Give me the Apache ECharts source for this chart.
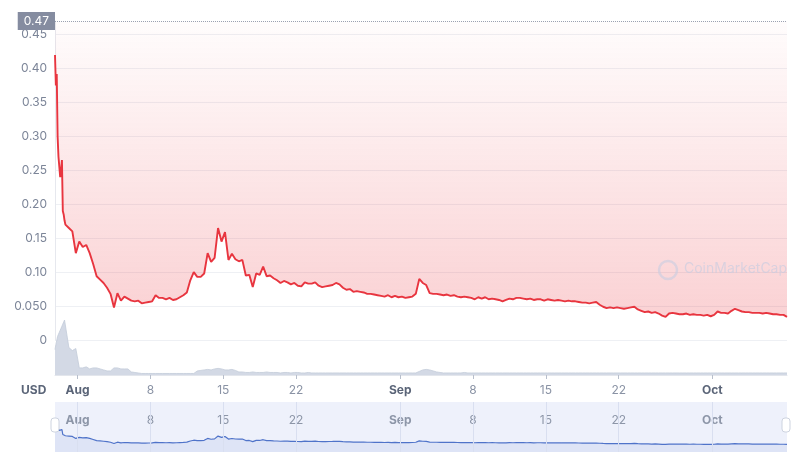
<!DOCTYPE html>
<html><head><meta charset="utf-8">
<script src="https://cdn.jsdelivr.net/npm/echarts@6/dist/echarts.min.js"></script>
<style>html,body{margin:0;padding:0;background:#fff}#c{width:800px;height:460px}</style>
</head><body><div id="c"></div>
<script>
// ---- data (USD price) ----
// first day after launch, every 2 hours from 2021-07-29 20:00
const launchPrices = [0.420,0.375,0.392,0.300,0.270,0.255,0.240,0.250,0.265,0.190,0.185,0.176];
// afterwards every 8 hours from 2021-07-30 20:00
const prices = [
0.170,0.165,0.160,0.128,0.145,0.137,0.140,0.128,0.112,0.094,
0.089,0.084,0.077,0.068,0.048,0.069,0.058,0.064,0.061,0.058,
0.057,0.058,0.054,0.055,0.056,0.057,0.066,0.062,0.062,0.060,
0.062,0.059,0.060,0.063,0.066,0.070,0.088,0.100,0.093,0.093,
0.098,0.128,0.115,0.121,0.165,0.145,0.159,0.118,0.127,0.119,
0.116,0.118,0.095,0.096,0.078,0.098,0.096,0.108,0.094,0.095,
0.091,0.088,0.084,0.087,0.085,0.082,0.084,0.080,0.079,0.085,
0.083,0.083,0.085,0.080,0.078,0.079,0.080,0.081,0.084,0.082,
0.077,0.074,0.075,0.071,0.072,0.071,0.070,0.068,0.068,0.067,
0.066,0.065,0.064,0.066,0.063,0.065,0.063,0.064,0.062,0.063,
0.064,0.068,0.090,0.084,0.081,0.069,0.068,0.068,0.067,0.066,
0.067,0.065,0.066,0.064,0.063,0.064,0.063,0.062,0.060,0.063,
0.061,0.063,0.060,0.061,0.060,0.059,0.057,0.059,0.061,0.060,
0.062,0.062,0.061,0.060,0.061,0.059,0.060,0.060,0.058,0.060,
0.059,0.058,0.059,0.058,0.057,0.058,0.057,0.057,0.056,0.055,
0.055,0.054,0.055,0.056,0.052,0.049,0.047,0.048,0.047,0.048,
0.047,0.046,0.047,0.048,0.049,0.045,0.043,0.041,0.042,0.040,
0.041,0.039,0.036,0.034,0.039,0.040,0.039,0.038,0.038,0.039,
0.037,0.038,0.037,0.037,0.036,0.037,0.035,0.037,0.042,0.040,
0.040,0.039,0.043,0.046,0.044,0.042,0.041,0.041,0.040,0.040,
0.040,0.039,0.040,0.039,0.038,0.038,0.037,0.037,0.034
];
// trading volume (relative units), same sampling
const launchVolumes = [25,30,34,38,40,42,44,46,48,50,52,54];
const volumes = [
55,27,24,26,7,7,8,6,7,7,
6,5,4,4,7,7,6,6,6,3,
2.5,2,1.5,1.5,1.5,1.5,1.5,1.5,1.5,1.5,
1.5,1.5,1.5,1.5,1.5,1.5,1.5,1.5,4,4.5,
5,5.5,5,6,6.5,6,5,5,5.5,4.5,
3,3,2.5,2.5,3,2.5,2.5,2.5,3,2.5,
2.5,2.5,2,2.5,2.5,2,2.5,2.5,2,2,
2.5,2,2,2,2,2,2,2,2,2,
2,2,2,2,2,2,2,2,2,2,
2,2,2,2,2,2,2,2,2,2,
2,2,3.5,5,5.5,5,4,3,2.5,2,
2,2,2,2,2,2.5,2,2,2,2,
2,2,2,2,2,2,2,2,2,2,
2,2,2,2,2,2,2,2,2,2,
2,2,2,2,2,2,2,2,2,2,
2,2,2,2,2,2,2,2,2,2,
2,2,2,2,2,2,2,2,2,2,
2,2,2,2,2,2,2,2,2,2,
2,2,2,2,2,2,2,2,2,2,
2,2,2,2,2,2,2,2,2,2,
2,2,2,2,2,2,2,2,2
];
const tickDays = ['2021-08-01','2021-08-08','2021-08-15','2021-08-22','2021-09-01','2021-09-08','2021-09-15','2021-09-22','2021-10-01'];
const monthNames = ['Jan','Feb','Mar','Apr','May','Jun','Jul','Aug','Sep','Oct','Nov','Dec'];
const markPrice = 0.47;

// ---- build ----
const HOUR = 3600e3;
const launchStart = new Date(2021,6,29,20).getTime();
const mainStart = new Date(2021,6,30,20).getTime();
function series(a, b){
  return a.map((v,i)=>[launchStart+i*2*HOUR, v]).concat(b.map((v,j)=>[mainStart+j*8*HOUR, v]));
}
const priceData = series(launchPrices, prices);
const volData = series(launchVolumes, volumes);
const tMin = priceData[0][0], tMax = priceData[priceData.length-1][0];
const tickValues = tickDays.map(s=>{const p=s.split('-').map(Number);return new Date(p[0],p[1]-1,p[2]).getTime();});
function fmt(v){const d=new Date(v);return d.getDate()===1?'{m|'+monthNames[d.getMonth()]+'}':String(d.getDate());}

const chart = echarts.init(document.getElementById('c'), null, {renderer:'canvas'});
const FONT = 'Inter, "Noto Sans", sans-serif';
chart.setOption({
  animation:false,
  textStyle:{fontFamily:FONT},
  grid:[
    {left:55,right:13,top:21,height:319},
    {left:55,right:13,top:318,height:57},
    {left:55,right:13,top:402,height:50,show:true,backgroundColor:'#eef1fb',borderWidth:0}
  ],
  xAxis:[
    {type:'value',gridIndex:0,min:tMin,max:tMax,show:false},
    {type:'value',gridIndex:1,min:tMin,max:tMax,
      axisLine:{lineStyle:{color:'#e3e6ec'}},
      axisTick:{customValues:tickValues,length:4,lineStyle:{color:'#b8bfcc'}},
      axisLabel:{customValues:tickValues,formatter:fmt,color:'#8a93a5',fontSize:12,margin:9,
        rich:{m:{fontWeight:'bold',color:'#5b6578',fontSize:12,fontFamily:FONT}}},
      splitLine:{show:false}},
    {type:'value',gridIndex:2,min:tMin,max:tMax,position:'top',
      axisLine:{show:false},axisTick:{show:false},
      axisLabel:{inside:true,customValues:tickValues,formatter:fmt,color:'#8d96a8',fontSize:12,margin:12,
        rich:{m:{fontWeight:'bold',color:'#8d96a8',fontSize:12,fontFamily:FONT}}},
      splitLine:{show:false}}
  ],
  yAxis:[
    {type:'value',gridIndex:0,min:0,max:markPrice,interval:0.05,
      axisLine:{show:true,lineStyle:{color:'#e6e8ee'}},axisTick:{show:false},
      splitLine:{lineStyle:{color:'#eef0f4'},showMaxLine:false},
      axisLabel:{showMaxLabel:false,color:'#7c8598',fontSize:12,margin:8,
        formatter:v=>v===0?'0':(Math.abs(v-0.05)<1e-9?'0.050':v.toFixed(2))}},
    {type:'value',gridIndex:1,min:0,max:56,show:false},
    {type:'value',gridIndex:2,min:-0.085,max:0.70,show:false}
  ],
  series:[
    {type:'line',name:'Volume',xAxisIndex:1,yAxisIndex:1,data:volData,showSymbol:false,
      lineStyle:{width:0.8,color:'#c3cbd9'},areaStyle:{color:'#d3d9e5',opacity:1},z:1},
    {type:'line',name:'Price',xAxisIndex:0,yAxisIndex:0,data:priceData,showSymbol:false,z:3,
      lineStyle:{color:'#e8353f',width:1.9},
      areaStyle:{origin:'end',color:new echarts.graphic.LinearGradient(0,0,0,1,[
        {offset:0,color:'rgba(234,57,67,0.02)'},{offset:1,color:'rgba(234,57,67,0.33)'}])},
      markLine:{symbol:'none',silent:true,data:[{yAxis:markPrice}],
        lineStyle:{type:'dotted',color:'#9aa1b1',width:1},
        label:{position:'start',formatter:String(markPrice),backgroundColor:'#858ca0',color:'#fff',
          padding:[3,6,3,6],fontSize:12,distance:0,fontFamily:FONT}}},
    {type:'line',name:'Navigator',xAxisIndex:2,yAxisIndex:2,data:priceData,showSymbol:false,
      lineStyle:{color:'#4f73c9',width:1.2},
      areaStyle:{origin:'start',color:'rgba(80,115,205,0.14)'},
      markLine:{symbol:'none',silent:true,label:{show:false},
        lineStyle:{type:'solid',color:'#d9dff0',width:1},
        data:tickValues.map(v=>({xAxis:v}))}}
  ],
  graphic:[
    {type:'text',left:21,top:384,style:{text:'USD',fill:'#5b6578',font:'bold 12px '+FONT}},
    {type:'rect',shape:{x:51,y:418,width:8,height:14,r:3},style:{fill:'#fff',stroke:'#cdd3df',lineWidth:1},z:10},
    {type:'rect',shape:{x:782,y:418,width:8,height:14,r:3},style:{fill:'#fff',stroke:'#cdd3df',lineWidth:1},z:10},
    {type:'circle',shape:{cx:668,cy:270,r:9},style:{fill:'none',stroke:'rgba(200,205,225,0.6)',lineWidth:2.5},z:10},
    {type:'text',x:684,y:262,style:{text:'CoinMarketCap',fill:'rgba(200,205,225,0.65)',font:'14px '+FONT},z:10}
  ]
});
</script></body></html>
